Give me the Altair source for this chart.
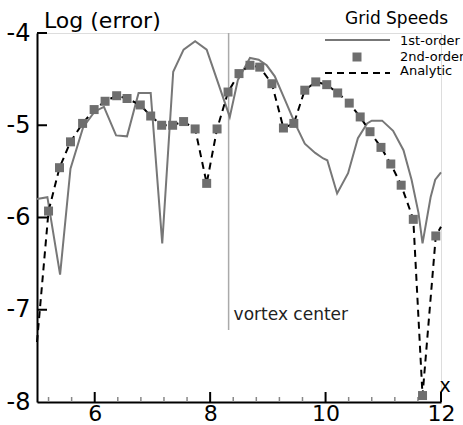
import altair as alt
import pandas as pd

# ---- data ----
x_first = [5.0, 5.18, 5.40, 5.58, 5.80, 6.00, 6.16, 6.37, 6.56, 6.76, 6.97, 7.17, 7.36, 7.54,
           7.74, 7.94, 8.34, 8.48, 8.69, 8.84, 8.98, 9.12, 9.30, 9.47, 9.64, 9.82, 9.96, 10.03,
           10.20, 10.39, 10.56, 10.72, 10.80, 10.98, 11.17, 11.35, 11.49, 11.61, 11.68, 11.82,
           11.90, 12.0]
y_first = [-5.80, -5.78, -6.62, -5.47, -5.02, -4.85, -4.80, -5.11, -5.12, -4.65, -4.65, -6.28,
           -4.42, -4.18, -4.09, -4.18, -4.91, -4.51, -4.27, -4.29, -4.35, -4.47, -4.73, -4.98,
           -5.20, -5.30, -5.36, -5.38, -5.74, -5.52, -5.14, -4.98, -4.95, -4.95, -5.06, -5.27,
           -5.59, -5.95, -6.28, -5.78, -5.59, -5.51]

x_second = [5.20, 5.39, 5.58, 5.79, 5.99, 6.18, 6.38, 6.56, 6.79, 6.97, 7.16, 7.35, 7.54, 7.74,
            7.94, 8.12, 8.31, 8.50, 8.69, 8.86, 9.07, 9.27, 9.45, 9.64, 9.83, 10.02, 10.21,
            10.41, 10.60, 10.77, 10.96, 11.13, 11.31, 11.52, 11.68, 11.91]
y_second = [-5.93, -5.46, -5.18, -4.98, -4.83, -4.74, -4.68, -4.71, -4.78, -4.90, -5.00, -5.00,
            -4.96, -5.04, -5.63, -5.04, -4.64, -4.44, -4.35, -4.37, -4.55, -5.03, -4.98, -4.62,
            -4.53, -4.56, -4.65, -4.76, -4.91, -5.07, -5.24, -5.42, -5.65, -6.02, -7.93, -6.20]

x_analytic = [5.0, 5.20, 5.39, 5.58, 5.79, 5.99, 6.18, 6.38, 6.56, 6.79, 6.97, 7.16, 7.35, 7.54,
              7.74, 7.94, 8.12, 8.31, 8.50, 8.69, 8.86, 9.07, 9.27, 9.45, 9.64, 9.83, 10.02,
              10.21, 10.41, 10.60, 10.77, 10.96, 11.13, 11.31, 11.52, 11.68, 11.91, 12.0]
y_analytic = [-7.35, -5.93, -5.46, -5.18, -4.98, -4.83, -4.74, -4.68, -4.71, -4.78, -4.90, -5.00,
              -5.00, -4.96, -5.04, -5.63, -5.04, -4.64, -4.44, -4.35, -4.37, -4.55, -5.03, -4.98,
              -4.62, -4.53, -4.56, -4.65, -4.76, -4.91, -5.07, -5.24, -5.42, -5.65, -6.02, -7.93,
              -6.20, -6.10]

vortex_x = [8.32]
vortex_top = [-4.0]
vortex_bottom = [-7.22]
vortex_label = ["vortex center"]
vortex_label_y = [-7.11]

x_major_ticks = [6, 8, 10, 12]
x_minor_ticks = [5.2, 5.6, 6.4, 6.8, 7.2, 7.6, 8.4, 8.8, 9.2, 9.6, 10.4, 10.8, 11.2, 11.6]
y_major_ticks = [-7, -6, -5, -4]

legend_title = "Grid Speeds"
legend_labels = ["1st-order", "2nd-order", "Analytic"]

FONT = "DejaVu Sans"
W, H = 404, 369

df_first = pd.DataFrame({"x": x_first, "y": y_first})
df_second = pd.DataFrame({"x": x_second, "y": y_second})
df_analytic = pd.DataFrame({"x": x_analytic, "y": y_analytic})
df_vortex = pd.DataFrame({"x": vortex_x, "y": vortex_top, "y2": vortex_bottom})
df_vlabel = pd.DataFrame({"x": vortex_x, "y": vortex_label_y, "t": vortex_label})
df_xmaj = pd.DataFrame({"x": x_major_ticks})
df_xmin = pd.DataFrame({"x": x_minor_ticks})
df_ymaj = pd.DataFrame({"y": y_major_ticks})

xscale = alt.Scale(domain=[5, 12], nice=False, zero=False)
yscale = alt.Scale(domain=[-8, -4], nice=False, zero=False)

X = alt.X("x:Q", scale=xscale, title=None,
          axis=alt.Axis(values=x_major_ticks, ticks=False, tickSize=0, grid=False,
                        labelPadding=1, labelFontSize=22, labelFont=FONT, labelColor="black",
                        domainColor="black", domainWidth=2, labelFlush=False))
Y = alt.Y("y:Q", scale=yscale, title=None,
          axis=alt.Axis(values=[-8, -7, -6, -5, -4], ticks=False, tickSize=0, grid=False,
                        labelPadding=7, labelFontSize=24, labelFont=FONT, labelColor="black",
                        domainColor="black", domainWidth=2, labelFlush=False,
                        labelExpr="'-' + abs(datum.value)"))

first = alt.Chart(df_first).mark_line(color="#777777", strokeWidth=2).encode(x=X, y=Y)
analytic = alt.Chart(df_analytic).mark_line(color="black", strokeWidth=2,
                                            strokeDash=[7, 5]).encode(x=X, y=Y)
second = alt.Chart(df_second).mark_square(color="#6e6e6e", size=81, opacity=1,
                                          filled=True).encode(x=X, y=Y)

vline = alt.Chart(df_vortex).mark_rule(color="#aaaaaa", strokeWidth=1.5).encode(
    x=X, y=Y, y2="y2:Q")
vtext = alt.Chart(df_vlabel).mark_text(align="left", baseline="alphabetic", dx=5,
                                       fontSize=17, font=FONT, color="#222222").encode(
    x=X, y=Y, text="t:N")

xmaj = alt.Chart(df_xmaj).mark_rule(color="black", strokeWidth=2).encode(
    x=X, y=alt.value(H), y2=alt.value(H - 10))
xmin = alt.Chart(df_xmin).mark_rule(color="#888888", strokeWidth=1.5).encode(
    x=X, y=alt.value(H), y2=alt.value(H - 5))
ymaj = alt.Chart(df_ymaj).mark_rule(color="black", strokeWidth=2).encode(
    y=Y, x=alt.value(0), x2=alt.value(10))


def label(text, x, y, size, align="left", baseline="middle"):
    return alt.Chart(pd.DataFrame({"t": [text]})).mark_text(
        align=align, baseline=baseline, fontSize=size, font=FONT, color="black").encode(
        x=alt.value(x), y=alt.value(y), text="t:N")


ytitle = label("Log (error)", 7, -5, 22, baseline="alphabetic")
xtitle = label("x", 408, 359, 19, align="center", baseline="alphabetic")

# legend drawn by hand
leg_title = label(legend_title, 308, -14, 17)
leg_l1 = label(legend_labels[0], 363, 8, 13)
leg_l2 = label(legend_labels[1], 363, 24, 13)
leg_l3 = label(legend_labels[2], 363, 38, 13)
leg_line = alt.Chart(pd.DataFrame({"t": ["a"]})).mark_rule(color="#777777", strokeWidth=2).encode(
    x=alt.value(288), x2=alt.value(353), y=alt.value(7))
leg_sq = alt.Chart(pd.DataFrame({"t": ["a"]})).mark_square(
    color="#6e6e6e", size=81, opacity=1, filled=True).encode(x=alt.value(320), y=alt.value(24))
leg_dash = alt.Chart(pd.DataFrame({"t": ["a"]})).mark_rule(
    color="black", strokeWidth=2, strokeDash=[7, 5]).encode(
    x=alt.value(288), x2=alt.value(353), y=alt.value(40))

chart = alt.layer(
    vline, vtext, xmin, xmaj, ymaj, first, analytic, second,
    ytitle, xtitle, leg_title, leg_l1, leg_l2, leg_l3, leg_line, leg_sq, leg_dash
).properties(
    width=W, height=H,
    autosize=alt.AutoSizeParams(type="none"),
    padding={"left": 37, "top": 33, "right": 22, "bottom": 23},
).configure_view(stroke=None).configure(background="white")

chart.save("out.html", embed_options={"renderer": "svg", "actions": False})
